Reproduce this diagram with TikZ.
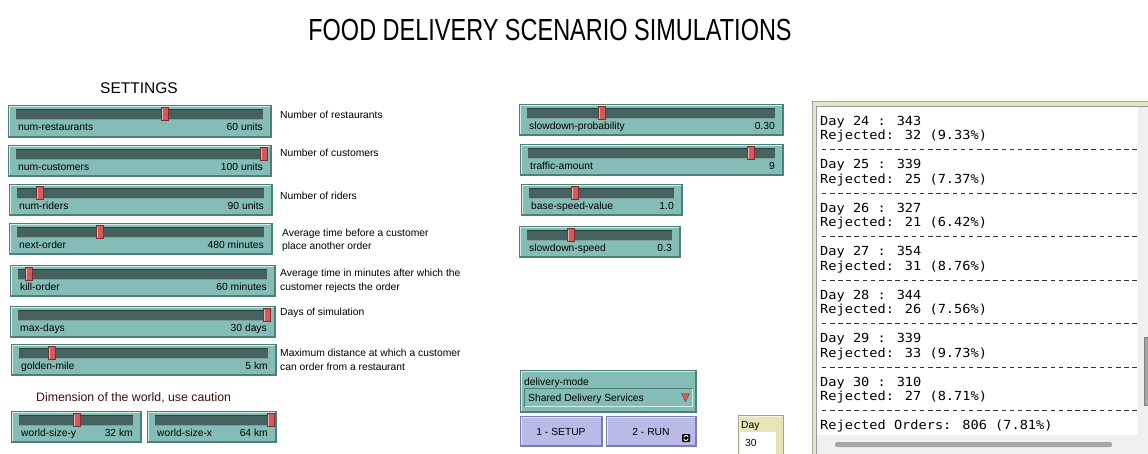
\documentclass[tikz,border=0pt]{standalone}
\usepackage{fontspec}
\setmainfont{Liberation Sans}
\newfontfamily\titlefont[FakeStretch=0.77]{Liberation Sans}
\newfontfamily\outmono[FakeStretch=1.09]{DejaVu Sans Mono}

\definecolor{tealbody}{HTML}{84BDB5}
\definecolor{teallight}{HTML}{D4ECE9}
\definecolor{tealdark}{HTML}{4E807A}
\definecolor{trackfill}{HTML}{45625F}
\definecolor{trackdark}{HTML}{2B3E3C}
\definecolor{tracklight}{HTML}{7E9E9A}
\definecolor{knobred}{HTML}{D25A5A}
\definecolor{knoblight}{HTML}{F4B0B0}
\definecolor{knobdark}{HTML}{7A3030}
\definecolor{lavender}{HTML}{BABAE8}
\definecolor{lavlight}{HTML}{E4E4F8}
\definecolor{lavdark}{HTML}{7C7CB0}
\definecolor{monbeige}{HTML}{E5E5B7}
\definecolor{monlight}{HTML}{F6F6E0}
\definecolor{mondark}{HTML}{A5A57C}
\definecolor{framebeige}{HTML}{E6E6C4}
\definecolor{scrollgrey}{HTML}{F0F0F0}
\definecolor{thumbgrey}{HTML}{A6A6A6}
\definecolor{maroon}{HTML}{3C1010}

\tikzset{
  sliderbody/.style={fill=tealbody, draw=tealdark, line width=0.8pt},
  bevellight/.style={draw=teallight, line width=1pt},
  beveldark/.style={draw=tealdark, line width=1pt},
  slidertrack/.style={fill=trackfill},
  knob/.style={fill=knobred, draw=knobdark, line width=0.5pt},
  sliderlabel/.style={font=\fontsize{10.3}{12}\selectfont, inner sep=0pt, text=black},
  desc/.style={font=\fontsize{10.3}{12}\selectfont, inner sep=0pt, anchor=base west, text=black},
  outline/.style={font=\outmono\fontsize{12.5}{14}\selectfont, inner sep=0pt, anchor=base west, text=black},
  sepline/.style={draw=black!80, line width=1.1pt, dash pattern=on 4.6pt off 3.57pt},
  buttonbody/.style={fill=lavender, draw=lavdark, line width=0.8pt},
  btntext/.style={font=\fontsize{10.3}{12}\selectfont, inner sep=0pt, anchor=base},
}

% slider widget: name, x1, y1, x2, y2, knob x, label, value
\newcommand{\nlslider}[8]{%
  \path[sliderbody] (#2,#3) rectangle (#4,#5);
  \draw[bevellight] (#2+1,#5-1) -- (#2+1,#3+1) -- (#4-1,#3+1);
  \draw[beveldark] (#2+1,#5-1) -- (#4-1,#5-1) -- (#4-1,#3+1);
  \path[slidertrack] (#2+8,#3+4) rectangle (#4-8,#3+14);
  \draw[trackdark, line width=1pt] (#2+8,#3+4.5) -- (#4-8,#3+4.5);
  \draw[tracklight, line width=0.8pt] (#2+8,#3+14) -- (#4-8,#3+14);
  \path[knob] (#6,#3+2.5) rectangle (#6+7,#3+15.5);
  \draw[knoblight, line width=1.2pt] (#6+1.5,#3+3.5) -- (#6+1.5,#3+14.5);
  \node[sliderlabel, anchor=base west] (#1-label) at (#2+10,#3+25) {#7};
  \node[sliderlabel, anchor=base east] (#1-value) at (#4-8,#3+25) {#8};
}

\begin{document}
\begin{tikzpicture}[x=1pt,y=-1pt]
\useasboundingbox[fill=white] (0,0) rectangle (1148,453);

% headings
\node[font=\titlefont\fontsize{30.5}{32}\selectfont, inner sep=0pt, anchor=base] (title) at (550,40) {FOOD DELIVERY SCENARIO SIMULATIONS};
\node[font=\fontsize{15.5}{17}\selectfont, inner sep=0pt, anchor=base] (settings) at (139,93.5) {SETTINGS};

% settings sliders
\nlslider{nr}{8}{105}{271}{137}{161}{num-restaurants}{60 units}
\nlslider{nc}{8}{145}{271}{176}{260}{num-customers}{100 units}
\nlslider{nrd}{9}{184}{272}{215}{36}{num-riders}{90 units}
\nlslider{no}{9}{223}{272}{254}{96}{next-order}{480 minutes}
\nlslider{ko}{10}{265}{275}{296}{25}{kill-order}{60 minutes}
\nlslider{md}{10}{306}{275}{337}{263}{max-days}{30 days}
\nlslider{gm}{11}{344}{276}{375}{48}{golden-mile}{5 km}

% descriptions
\node[desc] (d1) at (280,118.5) {Number of restaurants};
\node[desc] (d2) at (280,156.5) {Number of customers};
\node[desc] (d3) at (280,199.5) {Number of riders};
\node[desc] (d4a) at (282,236.5) {Average time before a customer};
\node[desc] (d4b) at (282,249.5) {place another order};
\node[desc] (d5a) at (280,276.5) {Average time in minutes after which the};
\node[desc] (d5b) at (280,290.5) {customer rejects the order};
\node[desc] (d6) at (280,315.5) {Days of simulation};
\node[desc] (d7a) at (280,356.5) {Maximum distance at which a customer};
\node[desc] (d7b) at (280,370.5) {can order from a restaurant};

% world dimension
\node[font=\fontsize{12.3}{14}\selectfont, text=maroon, inner sep=0pt, anchor=base west] (dimension) at (36,401) {Dimension of the world, use caution};
\nlslider{wy}{11}{411}{141}{442}{73}{world-size-y}{32 km}
\nlslider{wx}{147}{411}{276}{442}{267}{world-size-x}{64 km}

% traffic sliders
\nlslider{sp}{519}{104}{783}{135}{598}{slowdown-probability}{0.30}
\nlslider{ta}{520}{144}{783}{175}{747}{traffic-amount}{9}
\nlslider{bs}{521}{184}{682}{215}{571}{base-speed-value}{1.0}
\nlslider{ss}{519}{226}{680}{257}{567}{slowdown-speed}{0.3}

% chooser
\path[sliderbody] (520,370) rectangle (696,412);
\draw[bevellight] (521,411) -- (521,371) -- (695,371);
\draw[beveldark] (521,411) -- (695,411) -- (695,371);
\node[sliderlabel, anchor=base west] (modelabel) at (524,385) {delivery-mode};
\path[fill=tealbody] (524,388) rectangle (693,407);
\draw[tealdark, line width=1pt] (524.5,406.5) -- (524.5,388.5) -- (692.5,388.5);
\draw[teallight, line width=1pt] (524.5,406.5) -- (692.5,406.5) -- (692.5,388.5);
\node[sliderlabel, anchor=base west] (modevalue) at (528,401) {Shared Delivery Services};
\path[fill=knobred, draw=knobdark, line width=0.4pt] (681.5,393.5) -- (689.5,393.5) -- (685.5,401.5) -- cycle;

% buttons
\path[buttonbody] (520,416) rectangle (602,446);
\draw[lavlight, line width=1pt] (521,445) -- (521,417) -- (601,417);
\draw[lavdark, line width=1pt] (521,445) -- (601,445) -- (601,417);
\node[btntext] (setup) at (561,435) {1 - SETUP};
\path[buttonbody] (606,416) rectangle (696,446);
\draw[lavlight, line width=1pt] (607,445) -- (607,417) -- (695,417);
\draw[lavdark, line width=1pt] (607,445) -- (695,445) -- (695,417);
\node[btntext] (run) at (651,435) {2 - RUN};
\coordinate (forever) at (686,438);
\fill[black, rounded corners=1pt] ([shift={(-4,-4)}]forever) rectangle ([shift={(4,4)}]forever);
\draw[white, line width=0.9pt] ([shift={(2.3,-1)}]forever) arc[start angle=20, end angle=170, radius=2.4pt];
\draw[white, line width=0.9pt] ([shift={(-2.3,1)}]forever) arc[start angle=200, end angle=350, radius=2.4pt];

% monitor
\path[fill=monbeige, draw=mondark, line width=0.8pt] (738,415) rectangle (783,456);
\draw[monlight, line width=1pt] (739,456) -- (739,416) -- (782,416);
\node[sliderlabel, anchor=base west] (daylabel) at (741,428) {Day};
\path[fill=white] (740,432) rectangle (776,456);
\node[sliderlabel, anchor=base west] (dayvalue) at (745,446) {30};

% output area
\path[fill=framebeige, draw=gray!70] (812,101) rectangle (1152,456);
\path[fill=scrollgrey] (816,106) rectangle (1152,456);
\draw[gray!80, line width=0.6pt] (816,456) -- (816,106) -- (1152,106);
\path[fill=white] (816.5,106.5) rectangle (1138,435);
\path[fill=thumbgrey, draw=gray, line width=0.4pt] (1144.5,337) rectangle (1150,405);
\path[fill=thumbgrey, rounded corners=2pt] (835,442) rectangle (1112,447);

\begin{scope}
\clip (816.5,106.5) rectangle (1138,435);
\foreach \d/\n/\r/\p [count=\i from 0] in {24/343/32/9.33, 25/339/25/7.37, 26/327/21/6.42, 27/354/31/8.76, 28/344/26/7.56, 29/339/33/9.73, 30/310/27/8.71}{
  \node[outline] (day\d) at (820,{125+43.5*\i}) {Day \d\ : \n};
  \node[outline] (rej\d) at (820,{139.5+43.5*\i}) {Rejected: \r\ (\p\%)};
  \pgfmathsetmacro{\sepy}{int(149.5+43.5*\i)+0.5}
  \coordinate (sepL\d) at (821.8,\sepy);
  \coordinate (sepR\d) at (1142,\sepy);
  \draw[sepline] (sepL\d) -- (sepR\d);
}
\node[outline] (total) at (820,429.5) {Rejected Orders: 806 (7.81\%)};
\end{scope}
\end{tikzpicture}
\end{document}
